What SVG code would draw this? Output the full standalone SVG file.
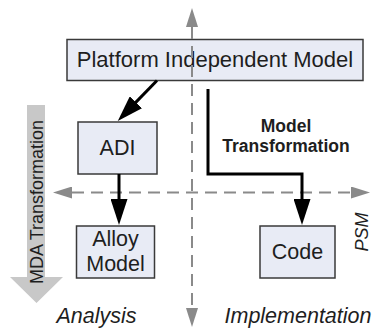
<svg xmlns="http://www.w3.org/2000/svg" width="372" height="329" viewBox="0 0 372 329">
<defs>
<style>
.box{fill:#e8ebf5;stroke:#3a3a3a;stroke-width:1.5}
.t{font-family:"Liberation Sans",Arial,sans-serif;font-size:21.5px;fill:#1e1e1e;text-anchor:middle}
.it{font-style:italic}
.b{font-weight:bold;font-size:17.5px}
.axis{stroke:#8a8a8a;stroke-width:2;stroke-dasharray:12 7;fill:none}
.conn{stroke:#000;stroke-width:3;fill:none}
</style>
<marker id="ah" markerUnits="userSpaceOnUse" markerWidth="26" markerHeight="17" refX="3" refY="8.5" orient="auto">
<path d="M0,0 L26,8.5 L0,17 Z" fill="#000"/>
</marker>
<marker id="gh" markerUnits="userSpaceOnUse" markerWidth="19" markerHeight="12" refX="0" refY="6" orient="auto-start-reverse">
<path d="M0,0 L19,6 L0,12 Z" fill="#8a8a8a"/>
</marker>
</defs>
<g id="mda-arrow">
<polygon points="27,105 45,105 45,277 63,277 36.5,303 10,277 27,277" fill="#c8c8c8"/>
<text class="t" style="font-size:18px" transform="translate(43,202) rotate(-90)">MDA Transformation</text>
</g>
<g id="pim">
<rect class="box" x="67" y="39.5" width="296" height="41"/>
<text class="t" x="215" y="66.5" style="font-size:22px">Platform Independent Model</text>
</g>
<g id="axes">
<line class="axis" x1="192" y1="27" x2="192" y2="308" marker-start="url(#gh)" marker-end="url(#gh)"/>
<line class="axis" x1="72" y1="192.5" x2="351" y2="192.5" marker-start="url(#gh)" marker-end="url(#gh)"/>
</g>
<g id="adi">
<rect class="box" x="78" y="122" width="79" height="52"/>
<text class="t" x="117.5" y="155">ADI</text>
</g>
<g id="alloy">
<rect class="box" x="76.5" y="226" width="78" height="52"/>
<text class="t" x="115.5" y="246">Alloy</text>
<text class="t" x="115.5" y="271">Model</text>
</g>
<g id="code">
<rect class="box" x="260" y="226" width="75" height="52"/>
<text class="t" x="297.5" y="259">Code</text>
</g>
<g id="connectors">
<line class="conn" x1="157" y1="80.5" x2="133.8" y2="104.4" marker-end="url(#ah)"/>
<line class="conn" x1="119" y1="174" x2="119" y2="202" marker-end="url(#ah)"/>
<path class="conn" d="M208,89 V174 H302 V202" marker-end="url(#ah)"/>
</g>
<g id="labels">
<text class="t b" x="286" y="132">Model</text>
<text class="t b" x="286" y="152">Transformation</text>
<text class="t it" style="font-size:18px" transform="translate(368,232) rotate(-90)">PSM</text>
<text class="t it" x="96.5" y="323">Analysis</text>
<text class="t it" x="298" y="323">Implementation</text>
</g>
</svg>
